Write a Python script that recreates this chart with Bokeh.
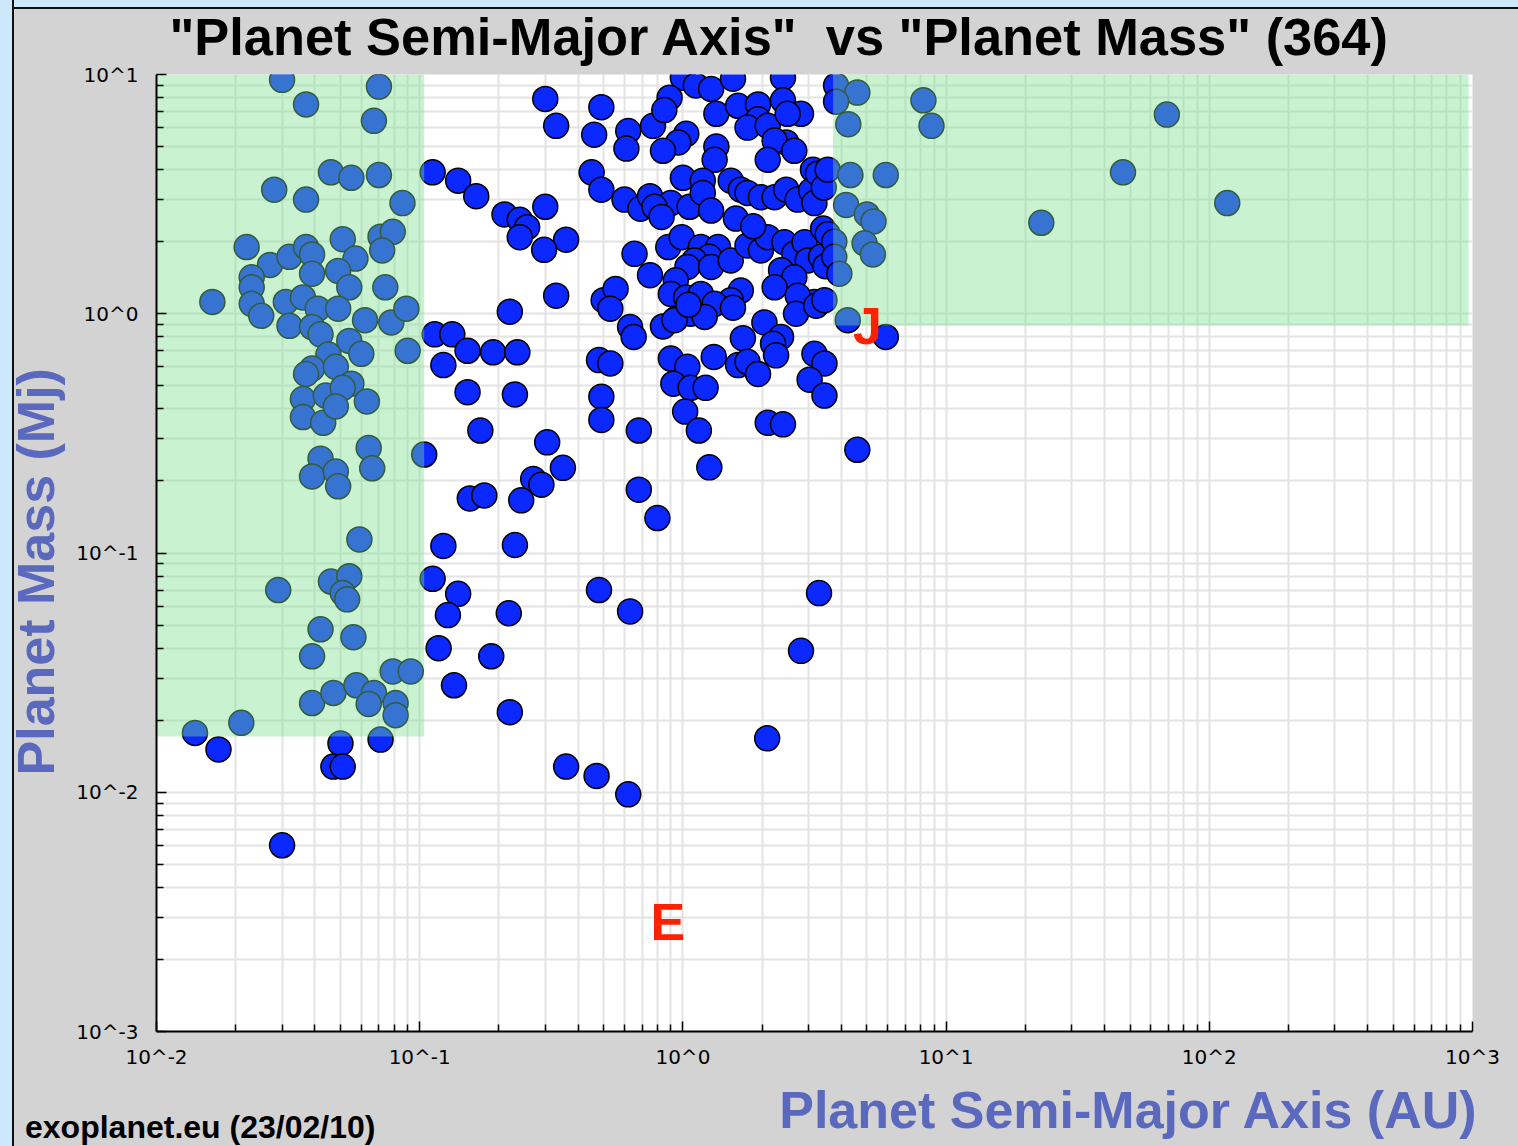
from bokeh.plotting import figure
from bokeh.models import Range1d, FixedTicker, CustomJSTickFormatter, Title, Div
from bokeh.layouts import column
from bokeh.embed import file_html
from bokeh.resources import INLINE
from bokeh.core.properties import value

# ---------------- data ----------------
# semi-major axis (AU) and planet mass (Mjup)
a_au = [
    # short-period group
    0.030, 0.037, 0.070, 0.067, 0.046, 0.055, 0.070, 0.028, 0.037, 0.086,
    0.022, 0.027, 0.032, 0.037, 0.039, 0.051, 0.057, 0.039, 0.049, 0.054,
    0.071, 0.079, 0.072, 0.074, 0.023, 0.023, 0.0163, 0.023, 0.025, 0.031,
    0.036, 0.041, 0.049, 0.062, 0.078, 0.089, 0.032, 0.039, 0.042, 0.054,
    0.060, 0.090, 0.045, 0.039, 0.037, 0.048, 0.055, 0.036, 0.044, 0.051,
    0.063, 0.036, 0.043, 0.048, 0.064, 0.066, 0.042, 0.039, 0.048, 0.049,
    0.104, 0.059, 0.046, 0.054, 0.051, 0.053, 0.029, 0.042, 0.056, 0.039,
    0.079, 0.0925, 0.039, 0.047, 0.0575, 0.067, 0.064, 0.081, 0.081, 0.021,
    0.014, 0.0172, 0.050, 0.071, 0.047, 0.051, 0.030,
    # 0.1 - 1 AU
    0.30, 0.33, 0.49, 0.46, 0.62, 0.61, 0.77, 0.112, 0.14, 0.164,
    0.21, 0.24, 0.256, 0.24, 0.30, 0.36, 0.297, 0.45, 0.49, 0.60,
    0.69, 0.75, 0.655, 0.75, 0.33, 0.22, 0.50, 0.555, 0.53, 0.63,
    0.65, 0.114, 0.133, 0.123, 0.152, 0.19, 0.235, 0.48, 0.53, 0.152,
    0.23, 0.49, 0.49, 0.68, 0.17, 0.305, 0.35, 0.27, 0.29, 0.155,
    0.176, 0.243, 0.68, 0.80, 0.123, 0.23, 0.112, 0.14, 0.128, 0.218,
    0.48, 0.63, 0.118, 0.187, 0.135, 0.22, 0.36, 0.47, 0.62, 0.84,
    0.94, 0.90, 1.04, 0.92, 1.07, 1.22, 1.02, 1.15, 1.26, 1.31,
    # dense 1 - 4 AU group
    1.0, 1.12, 1.28, 1.55, 2.40, 0.89, 0.85, 1.34, 1.62, 1.93,
    2.40, 2.81, 1.93, 1.76, 2.10, 2.50, 2.47, 2.23, 2.65, 3.12,
    1.34, 1.32, 1.03, 0.96, 0.84, 2.10, 0.90, 1.0, 1.06, 1.19,
    1.19, 1.28, 1.52, 1.66, 1.76, 1.98, 2.23, 2.47, 2.73, 3.07,
    3.16, 3.26, 0.78, 0.83, 0.88, 0.99, 1.17, 1.36, 1.26, 1.105,
    1.04, 0.94, 0.90, 1.03, 1.17, 1.28, 1.52, 1.76, 1.98, 2.10,
    2.43, 2.65, 2.90, 2.98, 3.35, 2.36, 2.65, 2.23, 3.16, 2.73,
    1.66, 1.52, 1.32, 1.07, 0.93, 1.21, 2.69, 3.21, 1.69, 2.04,
    2.36, 2.20, 1.62, 1.76, 1.93, 2.26, 2.10, 2.40, 3.16, 3.45,
    3.03, 3.45, 1.55, 1.05, 1.59, 1.85, 3.45, 3.41, 3.43, 3.55, 3.48,
    # long-period group
    3.82, 4.6, 3.82, 8.2, 8.8, 4.25, 69.0, 3.55, 4.33, 5.9,
    47.0, 4.17, 5.0, 5.3, 117.0, 23.0, 3.76, 4.9, 5.27, 3.76,
    3.93, 4.23, 5.9, 4.6,
    # low-mass, wider orbits
    3.29, 2.81, 2.09,
]
m_mj = [
    9.5, 7.5, 8.9, 6.4, 3.9, 3.7, 3.8, 3.3, 3.0, 2.9,
    1.9, 1.6, 1.73, 1.9, 1.77, 2.05, 1.7, 1.47, 1.51, 1.29,
    2.1, 2.2, 1.84, 1.29, 1.42, 1.29, 1.12, 1.10, 0.98, 1.12,
    1.17, 1.05, 1.05, 0.94, 0.92, 1.05, 0.89, 0.88, 0.82, 0.77,
    0.68, 0.70, 0.675, 0.59, 0.56, 0.60, 0.51, 0.44, 0.455, 0.49,
    0.43, 0.37, 0.35, 0.41, 0.275, 0.226, 0.248, 0.209, 0.219, 0.19,
    0.258, 0.114, 0.076, 0.080, 0.068, 0.064, 0.070, 0.048, 0.0445, 0.037,
    0.032, 0.032, 0.0236, 0.026, 0.028, 0.026, 0.0234, 0.0236, 0.021, 0.0195,
    0.0177, 0.0151, 0.016, 0.0166, 0.0128, 0.0128, 0.0060,
    7.9, 6.1, 7.3, 5.6, 5.8, 4.9, 6.1, 3.9, 3.6, 3.1,
    2.6, 2.47, 2.3, 2.09, 2.8, 2.04, 1.85, 3.9, 3.3, 3.0,
    2.75, 3.1, 1.78, 1.45, 1.19, 1.02, 1.14, 1.27, 1.05, 0.88,
    0.80, 0.82, 0.82, 0.61, 0.70, 0.69, 0.69, 0.64, 0.62, 0.47,
    0.46, 0.45, 0.36, 0.325, 0.325, 0.29, 0.227, 0.204, 0.193, 0.169,
    0.174, 0.166, 0.184, 0.14, 0.107, 0.108, 0.078, 0.0675, 0.055, 0.056,
    0.070, 0.057, 0.040, 0.037, 0.028, 0.0216, 0.0128, 0.0117, 0.0098, 0.885,
    0.95, 0.65, 0.60, 0.51, 0.49, 0.49, 0.39, 0.325, 0.228, 0.66,
    9.7, 9.0, 8.7, 9.6, 9.7, 8.0, 7.1, 6.85, 7.4, 7.5,
    7.8, 6.85, 6.5, 6.0, 6.1, 6.85, 5.2, 5.3, 4.8, 4.0,
    5.0, 4.4, 5.65, 5.2, 4.8, 4.4, 2.9, 3.7, 2.8, 3.6,
    3.2, 2.7, 3.6, 3.3, 3.2, 3.07, 3.07, 3.3, 3.0, 3.27,
    2.9, 3.85, 2.8, 2.54, 1.9, 2.09, 1.9, 1.9, 1.73, 1.67,
    1.57, 1.38, 1.21, 1.17, 1.21, 1.57, 1.67, 1.93, 1.84, 2.09,
    1.99, 1.78, 1.99, 1.67, 1.73, 1.52, 1.42, 1.29, 1.12, 1.19,
    1.25, 1.14, 1.10, 1.0, 0.94, 0.97, 1.0, 1.08, 0.79, 0.92,
    0.80, 0.75, 0.61, 0.63, 0.56, 0.67, 0.35, 0.345, 0.68, 0.62,
    0.53, 0.455, 1.06, 1.09, 2.5, 2.32, 1.14, 2.27, 3.37, 2.15, 1.58,
    9.0, 8.4, 7.7, 7.8, 6.1, 6.2, 6.8, 4.0, 3.8, 3.8,
    3.9, 2.85, 2.6, 2.43, 2.9, 2.4, 2.0, 1.97, 1.77, 1.73,
    1.47, 0.94, 0.80, 0.27,
    0.068, 0.039, 0.0168,
]

# highlighted zones (AU, Mjup)
zone_left = [0.01, 3.72]
zone_right = [0.104, 966.0]
zone_bottom = [0.0171, 0.893]
zone_top = [10.0, 10.0]

# reference bodies (Jupiter, Earth)
ref_names = ["J", "E"]
ref_a = [5.2, 1.0]
ref_m = [1.0, 0.00315]

x_major = [0.01, 0.1, 1.0, 10.0, 100.0, 1000.0]
y_major = [0.001, 0.01, 0.1, 1.0, 10.0]
x_minor = [k * 10.0 ** e for e in range(-2, 3) for k in range(2, 10)]
y_minor = [k * 10.0 ** e for e in range(-3, 1) for k in range(2, 10)]

title_text = '"Planet Semi-Major Axis"\u00a0 vs "Planet Mass" (364)'
x_label = "Planet Semi-Major Axis (AU)"
y_label = "Planet Mass (Mj)"
footnote = "exoplanet.eu (23/02/10)"

# ---------------- figure ----------------
FONT = "Liberation Sans"
LABEL_BLUE = "#5a68bd"
PAGE_BG = ("linear-gradient(to right, #cce8fa 0px, #cce8fa 12px, #111111 12px, "
           "#111111 14px, rgba(0,0,0,0) 14px), "
           "linear-gradient(to bottom, #cce8fa 0px, #cce8fa 7px, #111111 7px, "
           "#111111 9px, #d3d3d3 9px)")

p = figure(width=1518, height=1146, x_axis_type="log", y_axis_type="log",
           x_range=Range1d(0.01, 1000), y_range=Range1d(0.001, 10),
           output_backend="svg", toolbar_location=None,
           min_border_left=155, min_border_right=46,
           min_border_top=74, min_border_bottom=115,
           background_fill_color="white", border_fill_color=None,
           border_fill_alpha=0, styles={"background": PAGE_BG})
p.outline_line_color = None

xt = FixedTicker(ticks=x_major, minor_ticks=x_minor)
yt = FixedTicker(ticks=y_major, minor_ticks=y_minor)
p.xaxis.ticker = xt
p.yaxis.ticker = yt
p.xgrid.ticker = xt
p.ygrid.ticker = yt
fmt = CustomJSTickFormatter(code="return '10^' + Math.round(Math.log10(tick));")
p.xaxis.formatter = fmt
p.yaxis.formatter = fmt

for ax in (p.xaxis, p.yaxis):
    ax.axis_line_color = "black"
    ax.axis_line_width = 2
    ax.major_tick_in = 10
    ax.major_tick_out = 0
    ax.minor_tick_in = 7
    ax.minor_tick_out = 0
    ax.major_tick_line_color = "black"
    ax.minor_tick_line_color = "black"
    ax.major_tick_line_width = 1.5
    ax.minor_tick_line_width = 1.5
    ax.major_label_text_font = "DejaVu Sans"
    ax.major_label_text_font_size = "20px"
    ax.major_label_text_color = "black"
p.xaxis.major_label_standoff = 13
p.yaxis.major_label_standoff = 18

p.grid.grid_line_color = "#e3e3e3"
p.grid.grid_line_width = 2
p.grid.minor_grid_line_color = "#e3e3e3"
p.grid.minor_grid_line_width = 2

# points
p.scatter(a_au, m_mj, size=25, fill_color="#0a28ff", line_color="black", line_width=1.5)

# translucent zones drawn over the points
p.quad(left=zone_left, right=zone_right, bottom=zone_bottom, top=zone_top,
       fill_color="#7ae08d", fill_alpha=0.41, line_color=None)

# J / E markers
p.text(x=ref_a, y=ref_m, text=ref_names, text_color="#ff2200",
       text_font=value(FONT), text_font_style="bold", text_font_size="52px",
       text_align="center", text_baseline="middle",
       x_offset=[-4, -15], y_offset=[12, 10])

# title
p.title.text = title_text
p.title.align = "left"
p.title.offset = 13
p.title.vertical_align = "top"
p.title.standoff = 13
p.title.text_font = FONT
p.title.text_font_size = "52.4px"
p.title.text_font_style = "bold"
p.title.text_color = "black"

ylab = Title(text=y_label, align="left", offset=256, vertical_align="top", standoff=13,
             text_font=FONT, text_font_size="52px", text_font_style="bold",
             text_color=LABEL_BLUE)
p.add_layout(ylab, "left")

xlab = Title(text=x_label, align="right", offset=-6, standoff=14, text_font=FONT,
             text_font_size="52px", text_font_style="bold", text_color=LABEL_BLUE)
p.add_layout(xlab, "below")

foot = Div(text=footnote, width=440, height=36, margin=(-37, 0, 0, 25),
           styles={"font-family": FONT, "font-weight": "bold", "font-size": "32px",
                   "line-height": "36px", "color": "black", "white-space": "nowrap"})

root = column(p, foot)

open("out.html", "w").write(file_html(root, INLINE))
